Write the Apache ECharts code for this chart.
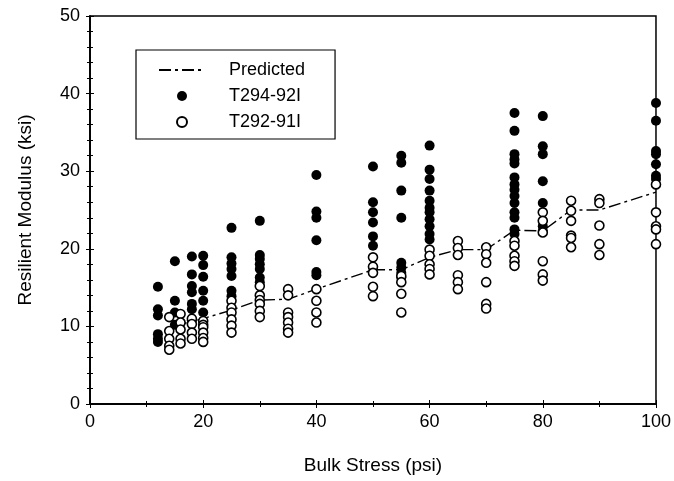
<!DOCTYPE html>
<html>
<head>
<meta charset="utf-8">
<script src="https://cdn.jsdelivr.net/npm/echarts@6/dist/echarts.min.js"></script>
<style>html,body{margin:0;padding:0;background:#fff}#c{width:674px;height:481px}</style>
</head>
<body>
<div id="c"></div>
<script>
// Bulk stress (psi) columns and measured resilient modulus (ksi)
const t294Stress = [12, 15, 18, 20, 25, 30, 40, 50, 55, 60, 75, 80, 100];
const t294Modulus = [
  [15.1, 12.2, 11.4, 9.0, 8.4, 8.0],
  [18.4, 13.3, 11.8, 10.2],
  [19.0, 16.7, 15.2, 14.4, 12.9, 12.2, 10.8],
  [19.1, 17.9, 16.4, 14.6, 13.3, 11.8],
  [22.7, 18.9, 18.1, 17.4, 16.5, 14.6, 13.9],
  [23.6, 19.2, 18.7, 18.0, 17.4, 16.3, 15.7],
  [29.5, 24.8, 24.0, 21.1, 17.0, 16.6],
  [30.6, 26.0, 24.7, 23.4, 21.6, 20.4],
  [32.0, 31.1, 27.5, 24.0, 18.2, 17.6, 16.9, 16.3],
  [33.3, 30.2, 29.0, 27.5, 26.2, 25.3, 24.7, 23.8, 22.9, 21.9, 21.2],
  [37.5, 35.2, 32.2, 31.5, 31.0, 29.2, 28.3, 27.6, 26.8, 25.9, 24.7, 24.0, 22.5, 21.9],
  [37.1, 33.2, 32.2, 28.7, 25.9, 22.9, 22.3],
  [38.8, 36.5, 32.6, 32.2, 30.9, 29.4, 29.0]
];
const t292Stress = [14, 16, 18, 20, 25, 30, 35, 40, 50, 55, 60, 65, 70, 75, 80, 85, 90, 100];
const t292Modulus = [
  [11.2, 9.4, 8.4, 7.5, 7.0],
  [11.6, 10.5, 9.6, 8.4, 7.8],
  [11.0, 10.3, 9.2, 8.4],
  [10.7, 10.2, 9.9, 9.2, 8.5, 8.0],
  [13.3, 12.4, 11.8, 10.9, 10.1, 9.2],
  [15.2, 14.0, 13.4, 12.9, 12.0, 11.2],
  [14.8, 14.0, 11.8, 11.2, 10.5, 9.7, 9.2],
  [14.8, 13.3, 11.8, 10.5],
  [18.9, 17.7, 16.9, 15.1, 13.9],
  [16.5, 15.7, 14.2, 11.8],
  [19.9, 19.1, 18.0, 17.4, 16.7],
  [21.0, 20.1, 19.2, 16.6, 15.7, 14.8],
  [20.2, 19.3, 18.2, 15.7, 12.9, 12.3],
  [21.0, 20.4, 19.1, 18.4, 17.8],
  [24.7, 23.6, 22.1, 18.4, 16.7, 15.9],
  [26.2, 24.9, 23.6, 21.7, 21.4, 20.2],
  [26.4, 25.9, 23.0, 20.6, 19.2],
  [28.3, 24.7, 22.9, 22.5, 20.6]
];
const predStress = [15, 20, 25, 30, 35, 40, 50, 55, 60, 65, 70, 75, 80, 85, 90, 100];
const predModulus = [10.1, 11.0, 12.1, 13.4, 13.5, 14.8, 17.3, 17.3, 18.9, 19.9, 19.9, 22.4, 22.3, 25.0, 25.0, 27.3];

function pairs(xs, cols) {
  const out = [];
  xs.forEach((x, i) => cols[i].forEach(v => out.push([x, v])));
  return out;
}
const FONT = '"Liberation Sans", Arial, sans-serif';

const chart = echarts.init(document.getElementById('c'));
chart.setOption({
  animation: false,
  textStyle: { fontFamily: FONT, color: '#000' },
  grid: { left: 90, right: 15, top: 16, bottom: 77, show: true, borderColor: '#000', borderWidth: 1.5 },
  legend: {
    left: 136, top: 50, orient: 'vertical',
    backgroundColor: '#fff',
    borderColor: '#000', borderWidth: 1.2, borderRadius: 0,
    padding: [11, 30, 8, 22],
    itemWidth: 46, itemHeight: 10, itemGap: 8,
    textStyle: { fontFamily: FONT, fontSize: 18, color: '#000', padding: [0, 0, 0, 19] },
    data: [
      { name: 'Predicted', itemStyle: { opacity: 0 } },
      { name: 'T294-92I' },
      { name: 'T292-91I' }
    ]
  },
  xAxis: [{
    type: 'value', min: 0, max: 100, interval: 20,
    name: 'Bulk Stress (psi)', nameLocation: 'middle', nameGap: 52,
    nameTextStyle: { fontFamily: FONT, fontSize: 19, color: '#000' },
    axisLine: { show: true, lineStyle: { color: '#000', width: 1.5 } },
    axisTick: { inside: true, length: 4, lineStyle: { color: '#000' } },
    minorTick: { show: true, splitNumber: 2, length: 3, lineStyle: { color: '#000' } },
    axisLabel: { fontFamily: FONT, fontSize: 18, color: '#000', margin: 9 },
    splitLine: { show: false }
  }, {
    type: 'value', min: 0, max: 100, interval: 20, position: 'top',
    axisLine: { show: true, lineStyle: { color: '#000', width: 1.5 } },
    axisTick: { inside: true, length: 4, lineStyle: { color: '#000' } },
    minorTick: { show: true, splitNumber: 2, length: 3, lineStyle: { color: '#000' } },
    axisLabel: { show: false }, splitLine: { show: false }
  }],
  yAxis: [{
    type: 'value', min: 0, max: 50, interval: 10,
    name: 'Resilient Modulus (ksi)', nameLocation: 'middle', nameGap: 55, nameRotate: 90,
    nameTextStyle: { fontFamily: FONT, fontSize: 19, color: '#000' },
    axisLine: { show: true, lineStyle: { color: '#000', width: 1.5 } },
    axisTick: { inside: true, length: 4, lineStyle: { color: '#000' } },
    minorTick: { show: true, splitNumber: 5, length: 3, lineStyle: { color: '#000' } },
    axisLabel: { fontFamily: FONT, fontSize: 18, color: '#000', margin: 10 },
    splitLine: { show: false }
  }, {
    type: 'value', min: 0, max: 50, interval: 10, position: 'right',
    axisLine: { show: true, lineStyle: { color: '#000', width: 1.5 } },
    axisTick: { inside: true, length: 4, lineStyle: { color: '#000' } },
    minorTick: { show: true, splitNumber: 5, length: 3, lineStyle: { color: '#000' } },
    axisLabel: { show: false }, splitLine: { show: false }
  }],
  series: [{
    name: 'Predicted', type: 'line', symbol: 'none', z: 3,
    data: predStress.map((x, i) => [x, predModulus[i]]),
    lineStyle: { color: '#000', width: 1.4, type: [12, 4, 3, 4] },
    itemStyle: { color: '#000' }
  }, {
    name: 'T294-92I', type: 'scatter', symbol: 'circle', symbolSize: 10, z: 2,
    data: pairs(t294Stress, t294Modulus),
    itemStyle: { color: '#000', opacity: 1 }
  }, {
    name: 'T292-91I', type: 'scatter', symbol: 'circle', symbolSize: 9, z: 4,
    data: pairs(t292Stress, t292Modulus),
    itemStyle: { color: '#fff', borderColor: '#000', borderWidth: 1.6, opacity: 1 }
  }]
});
</script>
</body>
</html>
